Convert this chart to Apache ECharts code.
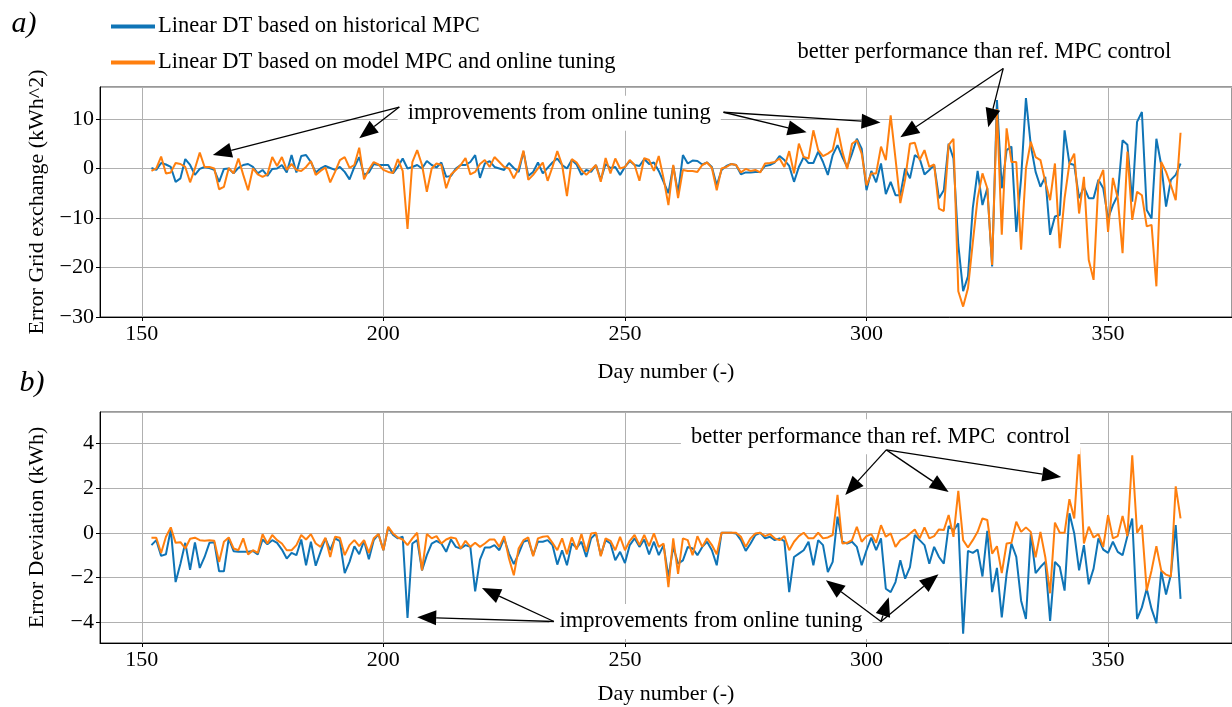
<!DOCTYPE html>
<html lang="en">
<head>
    <meta charset="UTF-8">
    <title>Digital twin error comparison</title>
    <script src="https://cdn.jsdelivr.net/npm/echarts@6/dist/echarts.min.js"></script>
    <style>
        * { margin: 0; padding: 0; box-sizing: border-box; }
        body { background: #fff; }
        #chart { width: 1232px; height: 707px; }
    </style>
</head>
<body>
    <div id="chart"></div>

    <script>
        // day numbers run from 152 to 365, one value per day
        const firstDay = 152;
        const seriesNames = ['Linear DT based on historical MPC', 'Linear DT based on model MPC and online tuning'];

        // a) Error grid exchange (kWh^2)
        const histGrid = [
            0.1, -0.3, 1.1, 0.8, 0.3, -2.7, -2.0, 1.9, 0.7, -1.3,
            -0.1, 0.3, 0.1, -0.3, -2.7, -0.1, 0, -1.0, 0.1, 0.7,
            0.9, 0.3, -1.0, -0.3, -1.5, -0.1, 0, 0.7, -0.8, 2.7,
            -0.8, 2.5, 2.7, 1.3, -0.8, 0, 0.5, 0.1, -0.3, 0.3,
            -0.7, -2.2, 0.3, 2.3, -1.3, -0.8, 0.9, 0.7, 0.7, 0.7,
            -1.0, 0.3, 2.0, 0, 0.3, 0.7, 0, 1.5, 0.7, 0.2,
            1.2, -1.7, -1.5, 0, 0.7, 0.7, 1.3, 2.7, -1.9, 1.0,
            1.5, 0.3, 0, -0.3, 1.1, 0.1, -0.7, 3.4, -1.5, -0.7,
            1.2, -1.0, 0.1, 1.2, 2.0, 0.7, 0, 1.7, 0.8, -1.3,
            -0.3, -0.7, 0.7, -2.3, 0.9, 0.1, 0.3, -1.3, 0.3, 1.5,
            0.7, 0.5, 1.9, 0.9, 1.2, -0.5, -2.7, -5.0, 0.5, -5.0,
            2.7, 1.0, 1.6, 1.5, 0.8, 1.2, 0.3, -3.4, -0.3, 0.5,
            0.9, 0.7, -1.2, -0.8, -0.8, -0.7, -0.7, 0.5, 0.7, 1.2,
            2.5, 1.7, 0.5, -2.7, 0.3, 2.3, 1.1, 1.1, 3.4, 1.3,
            -1.3, 2.7, 4.7, 2.3, 0.3, 3.0, 6.0, 4.0, -4.4, -0.5,
            -2.8, 1.0, -5.2, -2.7, -5.4, -5.4, 0, -2.0, 2.7, 2.0,
            -1.2, -0.3, 0.7, -6.0, -4.4, 5.0, 2.0, -15.4, -24.8, -21.8,
            -8.0, -0.5, -7.4, -4.0, -19.8, 13.8, -4.0, 3.7, 4.4, -12.8,
            -2.0, 14.2, 4.7, -0.7, -3.7, -1.7, -13.4, -9.7, -9.4, 7.7,
            1.0, 0.7, -6.0, -3.7, -6.0, -6.0, -2.3, -4.0, -10.1, -7.4,
            -5.4, 5.7, 4.8, -6.7, 9.4, 11.4, -8.4, -10.1, 6.0, 0.7,
            -7.7, -2.3, -1.3, 1.0
        ];
        const tunedGrid = [
            -0.5, 0, 2.4, -1.0, -0.8, 1.1, 0.9, 0.3, -2.8, 0,
            3.2, 0.3, 0.3, 0, -4.2, -3.7, 0.1, -1.0, 2.0, -1.3,
            -4.4, 0, -1.2, -1.7, -1.2, 2.3, 0.5, 2.3, -0.3, 0.9,
            -0.3, -0.5, 0.3, 1.5, -1.3, -0.5, 0.2, -2.8, -0.7, 1.7,
            2.3, 0.1, 0.7, 4.2, -2.2, -0.2, 1.3, 0.8, -0.3, -0.7,
            -0.9, 1.9, -0.5, -12.2, 1.3, 3.7, 0.7, -4.7, 0, 1.0,
            0.7, -4.0, -1.2, -0.3, 0.7, 2.1, -1.2, -0.7, 0.9, 1.7,
            0.3, 2.3, 1.3, 0.3, 0, -2.0, 0, 3.6, -2.3, -1.3,
            0, 1.2, -2.5, 0.3, 3.5, 0.7, -5.6, 1.9, 1.2, -0.3,
            -1.3, -0.3, 0.7, -2.7, 2.1, -1.0, 2.0, 0, 0.3, 1.7,
            0.7, -2.5, 2.1, 1.7, -0.5, 2.5, -2.0, -7.4, 0.7, -6.0,
            -0.3, -0.5, -0.5, -0.7, 0.7, 1.2, 0.1, -4.4, 0, 0.3,
            0.9, 0.7, -0.8, -0.1, -0.5, -0.3, -0.8, 1.0, 1.1, 1.3,
            2.0, 0.3, 3.5, -1.0, 5.0, 2.3, 2.0, 7.7, 3.7, 2.5,
            3.0, 3.7, 8.2, 3.4, -0.1, 5.0, 5.7, 3.0, -3.4, -1.0,
            -1.0, 4.4, 1.7, 10.7, 2.0, -7.0, -2.2, 5.0, 5.2, 1.7,
            3.7, 0.3, 0.8, -8.1, -8.6, 4.7, 6.0, -24.8, -27.9, -24.2,
            -15.0, -6.0, -1.0, -4.0, -19.5, 12.0, -13.4, 8.1, 1.3, 1.3,
            -16.4, 0, 5.4, 2.3, 1.7, -2.7, -6.4, 1.0, -16.1, -6.0,
            1.0, 3.0, -9.1, -1.7, -18.5, -22.5, -2.7, -0.3, -12.8, -1.9,
            -6.0, -17.1, 3.4, -10.4, -4.7, -5.4, -11.7, -11.4, -23.8, 1.3,
            -0.7, -3.4, -6.4, 7.2
        ];

        // b) Error deviation (kWh)
        const histDev = [
            -0.55, -0.33, -1.03, -0.96, 0.15, -2.2, -1.38, -0.45, -1.65, -0.43,
            -1.57, -1.08, -0.45, -0.42, -1.72, -1.72, -0.25, -0.82, -0.85, -0.85,
            -0.85, -0.81, -0.97, -0.3, -0.51, -0.33, -0.45, -0.75, -1.15, -0.9,
            -1.0, -0.3, -1.45, -0.4, -1.47, -0.85, -0.25, -0.78, -0.25, -0.37,
            -1.8, -1.3, -0.6, -0.96, -0.36, -1.18, -0.33, -0.06, -0.78, 0.24,
            -0.1, -0.25, -0.18, -3.8, -0.48, -0.33, -1.68, -1.0, -0.48, -0.36,
            -0.48, -0.85, -0.3, -0.63, -0.7, -0.55, -0.63, -2.62, -1.2, -0.66,
            -0.66, -0.55, -0.78, -0.25, -0.93, -1.4, -0.93, -0.4, -0.33, -1.0,
            -0.4, -0.4, -0.33, -0.55, -1.42, -0.78, -1.45, -0.48, -0.67, -0.4,
            -1.08, -0.25, -0.03, -1.0, -0.33, -0.48, -1.23, -0.85, -1.35, -0.55,
            -0.25, -0.63, -0.3, -0.97, -0.4, -1.0, -0.55, -1.98, -0.63, -1.38,
            -1.23, -0.63, -0.7, -1.0, -0.63, -0.4, -0.78, -1.45, 0, 0,
            0, -0.03, -0.33, -0.81, -0.48, -0.1, 0, -0.25, -0.18, -0.33,
            -0.25, -0.37, -2.65, -1.08, -0.93, -0.78, -0.4, -1.45, -0.33, -0.55,
            -1.75, -1.3, 0.72, -0.4, -0.48, -0.4, -0.63, -1.45, -0.78, -0.22,
            -0.78, -0.25, -2.5, -2.65, -2.2, -1.23, -2.05, -1.53, -0.1, -0.33,
            -0.55, -1.38, -0.63, -1.08, -1.38, 0.3, 0.1, 0.42, -4.5, -0.81,
            -0.9, -0.75, -1.95, 0.09, -2.65, -1.57, -3.78, -1.83, -0.48, -1.08,
            -3.03, -3.85, -0.03, -1.8, -1.53, -1.3, -3.93, -1.3, -1.53, -2.58,
            0.87, -0.03, -1.68, -0.55, -2.3, -1.6, -0.25, -0.75, -0.9, -0.4,
            -0.85, -1.0, -0.15, 0.64, -3.85, -3.33, -2.5, -3.4, -4.04, -1.72,
            -2.76, -1.87, 0.34, -2.95
        ];
        const tunedDev = [
            -0.22, -0.22, -0.9, -0.18, 0.24, -0.45, -0.42, -0.7, -0.27, -0.22,
            -0.33, -0.36, -0.33, -0.36, -1.3, -0.4, -0.21, -0.7, -0.78, -0.25,
            -0.97, -0.78, -0.9, -0.07, -0.48, -0.1, -0.33, -0.48, -0.78, -0.78,
            -0.55, -0.1, -0.3, -0.06, -0.48, -0.63, -0.22, -1.08, -0.18, -0.22,
            -1.0, -0.55, -0.33, -0.6, -0.33, -0.9, -0.25, -0.06, -0.78, 0.27,
            -0.03, -0.21, -0.3, -0.55, -0.25, 0, -1.68, -0.06, -0.25, -0.15,
            -0.48, -0.3, -0.21, -0.25, -0.7, -0.36, -0.63, -0.45, -0.63, -0.48,
            -0.3, -0.3, -0.63, -0.15, -1.15, -1.9, -0.7, -0.33, -0.21, -1.05,
            -0.25, -0.18, -0.15, -0.45, -0.78, -0.25, -0.96, -0.21, -0.75, -0.06,
            -0.85, -0.03, 0, -1.05, -0.25, -0.36, -0.78, -0.18, -0.78, -0.36,
            -0.1, -0.55, -0.1, -0.6, -0.03, -0.63, -0.48, -2.43, -0.25, -1.83,
            -0.25, -0.33, -1.0, -0.15, -0.63, -0.25, -0.55, -0.96, 0, 0,
            0, 0, -0.18, -0.63, -0.25, -0.03, 0, -0.15, -0.06, -0.25,
            -0.33, -0.15, -0.78, -0.4, -0.15, 0, -0.25, -0.25, 0, -0.25,
            -0.21, -0.1, 1.69, -0.48, -0.45, -0.33, 0.27, -0.4, -0.15, -0.06,
            -0.45, 0.34, -0.18, -0.03, -0.63, -0.33, -0.22, -0.03, 0.15, -0.25,
            0.24, -0.25, -0.15, 0.15, 0.12, 0.79, -0.18, 1.87, -0.33, -0.66,
            -0.33, 0.04, 0.64, 0.57, -0.93, -0.6, -1.8, -0.48, -0.45, 0.49,
            0.04, 0.24, 0.04, -1.1, 0.04, -1.08, -2.7, 0.45, 0, 0,
            1.5, 0.64, 3.8, -0.48, 0.27, -0.21, -0.06, -0.63, 0.79, -0.25,
            -0.15, 0.75, -0.15, 3.46, 0, 0.34, -2.58, -1.68, -0.6, -1.68,
            -1.87, -1.95, 2.07, 0.64
        ];

        // annotations, in data coordinates of each panel
        const notesA = [
            { text: 'improvements from online tuning', at: [236.4, 11.15] },
            { text: 'better performance than ref. MPC control', at: [324.4, 23.4] }
        ];
        const arrowsA = [
            [[203.3, 12.4], [164.7, 2.7]],
            [[203.3, 12.4], [195.0, 6.1]],
            [[270.4, 11.35], [287.6, 7.3]],
            [[270.4, 11.35], [302.9, 9.3]],
            [[328.3, 20.2], [307.0, 6.3]],
            [[328.3, 20.2], [325.2, 8.3]]
        ];
        const notesB = [
            { text: 'better performance than ref. MPC  control', at: [302.9, 4.28] },
            { text: 'improvements from online tuning', at: [267.8, -3.96] }
        ];
        const arrowsB = [
            [[304.1, 3.7], [295.6, 1.69]],
            [[304.1, 3.7], [317.0, 1.82]],
            [[304.1, 3.7], [340.3, 2.49]],
            [[235.3, -3.96], [207.0, -3.77]],
            [[235.3, -3.96], [220.4, -2.47]],
            [[303.0, -3.96], [291.6, -2.12]],
            [[303.0, -3.96], [304.6, -2.88]],
            [[303.0, -3.96], [314.9, -1.85]]
        ];

        const FONT = "'Liberation Serif', 'Times New Roman', serif";
        const BLUE = '#0f74b6';
        const ORANGE = '#ff7f0e';

        const toPairs = arr => arr.map((v, i) => [firstDay + i, v]);
        const minus = v => (v < 0 ? '\u2212' + Math.abs(v) : String(v));

        function xAxisFor(gridIndex, gap) {
            return {
                type: 'value', gridIndex, min: 141.35, max: 375.65, splitNumber: 5,
                name: 'Day number (-)', nameLocation: 'middle', nameGap: gap,
                nameTextStyle: { fontFamily: FONT, fontSize: 22, color: '#000' },
                axisLine: { show: true, onZero: false, lineStyle: { color: '#000', width: 1 } },
                axisTick: { show: true, length: 4, lineStyle: { color: '#000' } },
                axisLabel: { fontFamily: FONT, fontSize: 22, color: '#000', margin: 6, showMinLabel: false, showMaxLabel: false },
                splitLine: { show: true, lineStyle: { color: '#b0b0b0', width: 1 } }
            };
        }
        function yAxisFor(gridIndex, name, extra) {
            return Object.assign({
                type: 'value', gridIndex,
                name, nameLocation: 'middle', nameGap: 52, nameRotate: 90,
                nameTextStyle: { fontFamily: FONT, fontSize: 22, color: '#000' },
                axisLine: { show: true, onZero: false, lineStyle: { color: '#000', width: 1 } },
                axisTick: { show: true, length: 4, lineStyle: { color: '#000' } },
                axisLabel: { fontFamily: FONT, fontSize: 22, color: '#000', margin: 6, formatter: minus, showMaxLabel: false },
                splitLine: { show: true, lineStyle: { color: '#b0b0b0', width: 1 } }
            }, extra);
        }
        function lineSeries(name, data, color, idx) {
            return {
                name, type: 'line', data: toPairs(data), xAxisIndex: idx, yAxisIndex: idx,
                showSymbol: false, symbol: 'none', clip: true,
                lineStyle: { color, width: 2 }, itemStyle: { color }
            };
        }

        const chart = echarts.init(document.getElementById('chart'));
        const option = {
            animation: false,
            backgroundColor: '#fff',
            legend: {
                orient: 'vertical', left: 106, top: 10, icon: 'rect',
                itemWidth: 44, itemHeight: 4, itemGap: 13,
                textStyle: { fontFamily: FONT, fontSize: 22.5, color: '#000', padding: [0, 0, 0, -2] },
                data: seriesNames
            },
            grid: [
                { left: 100, top: 87, width: 1134, height: 230, show: true, borderColor: '#333', borderWidth: 1 },
                { left: 100, top: 412, width: 1134, height: 231, show: true, borderColor: '#333', borderWidth: 1 }
            ],
            xAxis: [xAxisFor(0, 44), xAxisFor(1, 40)],
            yAxis: [
                yAxisFor(0, 'Error Grid exchange (kWh^2)', { min: -30, max: 16.45, interval: 10 }),
                yAxisFor(1, 'Error Deviation (kWh)', {
                    min: -4.92, max: 5.39, splitNumber: 5,
                    axisLabel: { fontFamily: FONT, fontSize: 22, color: '#000', margin: 6, formatter: minus, showMinLabel: false, showMaxLabel: false }
                })
            ],
            series: [
                lineSeries(seriesNames[0], histGrid, BLUE, 0),
                lineSeries(seriesNames[1], tunedGrid, ORANGE, 0),
                lineSeries(seriesNames[0], histDev, BLUE, 1),
                lineSeries(seriesNames[1], tunedDev, ORANGE, 1)
            ]
        };
        chart.setOption(option);

        // annotations: white-boxed text plus straight arrows with filled heads
        function noteElems(grid, notes) {
            return notes.map(n => {
                const p = chart.convertToPixel({ gridIndex: grid }, n.at);
                return {
                    type: 'text', z: 90, x: p[0], y: p[1],
                    style: {
                        text: n.text, font: '22.5px ' + FONT, fill: '#000',
                        align: 'center', verticalAlign: 'middle',
                        backgroundColor: '#fff', padding: [6, 10]
                    }
                };
            });
        }
        function arrowElems(grid, arrows) {
            const out = [];
            arrows.forEach(([from, to]) => {
                const p1 = chart.convertToPixel({ gridIndex: grid }, from);
                const p2 = chart.convertToPixel({ gridIndex: grid }, to);
                const dx = p2[0] - p1[0], dy = p2[1] - p1[1];
                const len = Math.hypot(dx, dy);
                const ux = dx / len, uy = dy / len;
                const headL = 19, headW = 7.5;
                const bx = p2[0] - ux * headL, by = p2[1] - uy * headL;
                out.push({
                    type: 'line', z: 100,
                    shape: { x1: p1[0], y1: p1[1], x2: bx, y2: by },
                    style: { stroke: '#000', lineWidth: 1.3 }
                });
                out.push({
                    type: 'polygon', z: 100,
                    shape: { points: [[p2[0], p2[1]], [bx - uy * headW, by + ux * headW], [bx + uy * headW, by - ux * headW]] },
                    style: { fill: '#000' }
                });
            });
            return out;
        }
        const panelTag = (label, x, y) => ({
            type: 'text', x, y,
            style: { text: label, font: 'italic 30px ' + FONT, fill: '#000', align: 'center', verticalAlign: 'middle' }
        });

        chart.setOption({
            graphic: [
                panelTag('a)', 24, 24),
                panelTag('b)', 32, 383),
                ...noteElems(0, notesA),
                ...noteElems(1, notesB),
                ...arrowElems(0, arrowsA),
                ...arrowElems(1, arrowsB)
            ]
        });
    </script>
</body>
</html>
